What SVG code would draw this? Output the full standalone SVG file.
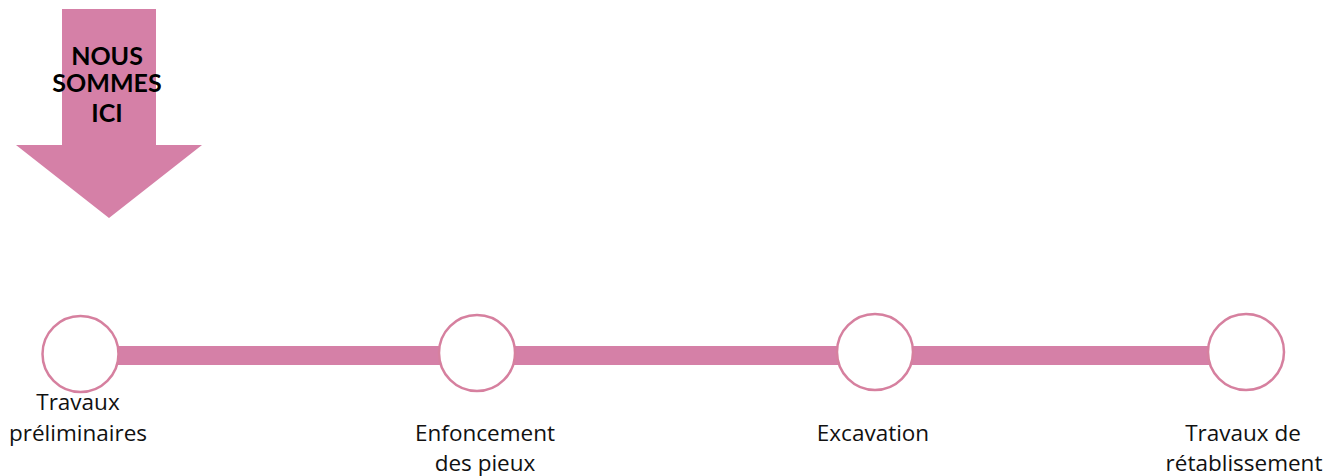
<svg xmlns="http://www.w3.org/2000/svg" width="1340" height="476" viewBox="0 0 1340 476">
<style>
.lbl{font-family:"Open Sans","Liberation Sans",sans-serif;font-size:22.5px;fill:#111;text-anchor:middle}
.node{fill:#fff;stroke:#D6809F;stroke-width:2.5}
.hdr{font-family:"Lato","Liberation Sans",sans-serif;font-weight:bold;font-size:25px;fill:#000;text-anchor:middle}
</style>
<rect width="1340" height="476" fill="#fff"/>
<g id="marker">
<polygon points="62,9 156,9 156,145 202,145 109,218 16,145 62,145" fill="#D580A7"/>
<text class="hdr" x="107" y="65">NOUS</text>
<text class="hdr" x="107" y="92">SOMMES</text>
<text class="hdr" x="107" y="122">ICI</text>
</g>
<g id="connectors">
<rect x="115" y="346" width="1095" height="19" fill="#D580A7"/>
</g>
<g id="n1">
<circle class="node" cx="80.5" cy="354" r="38"/>
<text class="lbl" x="78" y="410">Travaux</text>
<text class="lbl" x="78" y="441">préliminaires</text>
</g>
<g id="n2">
<circle class="node" cx="477" cy="353" r="38"/>
<text class="lbl" x="485" y="441">Enfoncement</text>
<text class="lbl" x="485" y="471">des pieux</text>
</g>
<g id="n3">
<circle class="node" cx="875" cy="352" r="38"/>
<text class="lbl" x="873" y="441">Excavation</text>
</g>
<g id="n4">
<circle class="node" cx="1246" cy="352" r="38"/>
<text class="lbl" x="1243" y="441">Travaux de</text>
<text class="lbl" x="1244" y="471">rétablissement</text>
</g>
</svg>
